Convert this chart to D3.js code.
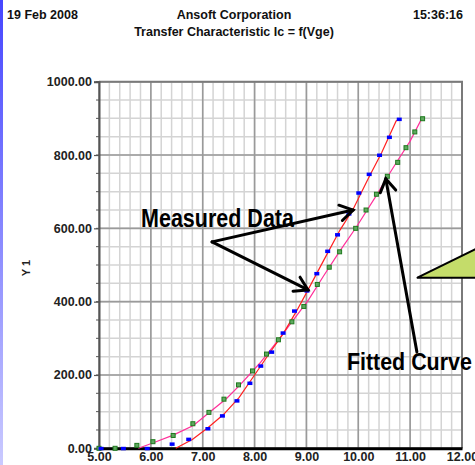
<!DOCTYPE html>
<html>
<head>
<meta charset="utf-8">
<script src="https://cdn.jsdelivr.net/npm/d3@7"></script>
<style>
  body { margin: 0; background: #fff; }
  svg { display: block; font-family: "Liberation Sans", Arial, sans-serif; }
</style>
</head>
<body>
<svg id="chart" width="475" height="465"></svg>
<script>
// measured data (blue) and its fitted curve (red)
var blueX = [5.04, 5.47, 5.93, 6.41, 6.73, 7.10, 7.38, 7.66, 7.91, 8.12, 8.33, 8.55, 8.77, 9.01, 9.20, 9.41, 9.60, 9.82, 10.01, 10.21, 10.41, 10.60, 10.79];
var blueY = [0, 0, 0, 12, 25, 54, 89, 130, 178, 225, 263, 315, 375, 430, 477, 538, 583, 640, 697, 748, 800, 849, 898];
var redFitX = [6.48, 6.80, 7.10, 7.40, 7.70, 8.00, 8.30, 8.55, 8.80, 9.00, 9.33, 9.65, 9.90, 10.20, 10.45, 10.73, 10.79];
var redFitY = [0, 24, 56, 92, 138, 200, 262, 312, 372, 424, 512, 596, 652, 738, 806, 893, 898];

// measured data (green) and its fitted curve (pink)
var greenX = [5.00, 5.31, 5.73, 6.04, 6.43, 6.81, 7.12, 7.41, 7.69, 7.96, 8.23, 8.46, 8.72, 8.95, 9.21, 9.44, 9.64, 9.95, 10.15, 10.35, 10.56, 10.76, 10.92, 11.09, 11.24];
var greenY = [0, 0, 8, 18, 35, 67, 98, 134, 173, 211, 257, 296, 345, 387, 447, 494, 536, 600, 650, 693, 742, 780, 820, 863, 899];
var pinkFitX = [5.76, 6.05, 6.43, 6.82, 7.12, 7.46, 7.72, 8.10, 8.46, 8.72, 9.04, 9.33, 9.64, 9.97, 10.35, 10.56, 10.76, 11.00, 11.20, 11.24];
var pinkFitY = [0, 15, 36, 62, 97, 136, 173, 232, 296, 345, 405, 470, 537, 605, 690, 740, 785, 838, 893, 899];

var xTicks = [5, 6, 7, 8, 9, 10, 11, 12];
var yTicks = [0, 200, 400, 600, 800, 1000];

var svg = d3.select("#chart");

// blue strip on the left edge
var grad = svg.append("defs").append("linearGradient")
    .attr("id", "edge").attr("x1", 0).attr("y1", 0).attr("x2", 0).attr("y2", 1);
grad.append("stop").attr("offset", "0%").attr("stop-color", "#4646ff");
grad.append("stop").attr("offset", "100%").attr("stop-color", "#cacaff");
svg.append("rect").attr("x", 0).attr("y", 0).attr("width", 3).attr("height", 465).attr("fill", "url(#edge)");

// header
var head = svg.append("g").attr("font-weight", "bold").attr("font-size", "12.5px").attr("fill", "#111");
head.append("text").attr("x", 7).attr("y", 19).text("19 Feb 2008");
head.append("text").attr("x", 234).attr("y", 19).attr("text-anchor", "middle").text("Ansoft Corporation");
head.append("text").attr("x", 463).attr("y", 19).attr("text-anchor", "end").text("15:36:16");
head.append("text").attr("x", 234).attr("y", 36).attr("text-anchor", "middle").text("Transfer Characteristic Ic = f(Vge)");

var x = d3.scaleLinear().domain([5, 12]).range([99, 462]);
var y = d3.scaleLinear().domain([0, 1000]).range([448.3, 81.7]);

// grid
var minorX = d3.range(5, 12.001, 0.2);
var minorY = d3.range(0, 1000.1, 50);
var grid = svg.append("g");
grid.selectAll(".mx").data(minorX).enter().append("line")
    .attr("x1", function(d) { return x(d); }).attr("x2", function(d) { return x(d); })
    .attr("y1", y(0)).attr("y2", y(1000))
    .attr("stroke", "#d4d4d4").attr("stroke-width", 1.5);
grid.selectAll(".my").data(minorY).enter().append("line")
    .attr("y1", function(d) { return y(d); }).attr("y2", function(d) { return y(d); })
    .attr("x1", x(5)).attr("x2", x(12))
    .attr("stroke", "#d4d4d4").attr("stroke-width", 1.5);
grid.selectAll(".Mx").data(xTicks).enter().append("line")
    .attr("x1", function(d) { return x(d); }).attr("x2", function(d) { return x(d); })
    .attr("y1", y(0)).attr("y2", y(1000))
    .attr("stroke", "#9a9a9a").attr("stroke-width", 1.6);
grid.selectAll(".My").data(yTicks).enter().append("line")
    .attr("y1", function(d) { return y(d); }).attr("y2", function(d) { return y(d); })
    .attr("x1", x(5)).attr("x2", x(12))
    .attr("stroke", "#9a9a9a").attr("stroke-width", 1.6);
// frame top/right
svg.append("path")
    .attr("d", "M" + x(5) + "," + y(1000) + "H" + x(12) + "V" + y(0))
    .attr("fill", "none").attr("stroke", "#7a7a7a").attr("stroke-width", 2);

// minor ticks on y axis
svg.append("g").selectAll("line").data(minorY).enter().append("line")
    .attr("x1", x(5) - 3).attr("x2", x(5))
    .attr("y1", function(d) { return y(d); }).attr("y2", function(d) { return y(d); })
    .attr("stroke", "#555").attr("stroke-width", 1);

// y axis
var yAxis = svg.append("g")
    .attr("transform", "translate(" + x(5) + ",0)")
    .call(d3.axisLeft(y).tickValues(yTicks).tickFormat(d3.format(".2f")).tickSize(5).tickPadding(2));
yAxis.select(".domain").attr("stroke", "#555").attr("stroke-width", 2);
yAxis.selectAll(".tick line").attr("stroke", "#555").attr("stroke-width", 1.2);
yAxis.selectAll("text").attr("font-size", "12.5px").attr("font-weight", "bold")
    .attr("font-family", "Liberation Sans, Arial, sans-serif").attr("fill", "#222");

// x axis
var xAxis = svg.append("g")
    .attr("transform", "translate(0," + y(0) + ")")
    .call(d3.axisBottom(x).tickValues(xTicks).tickFormat(d3.format(".2f")).tickSize(0).tickPadding(4));
xAxis.select(".domain").attr("stroke", "#000").attr("stroke-width", 3);
xAxis.selectAll("text").attr("font-size", "12.5px").attr("font-weight", "bold")
    .attr("font-family", "Liberation Sans, Arial, sans-serif").attr("fill", "#222");

svg.append("text")
    .attr("transform", "translate(30,268) rotate(-90)")
    .attr("text-anchor", "middle").attr("font-size", "11px").attr("font-weight", "bold").attr("fill", "#222")
    .text("Y 1");

// fitted curves
var line = d3.line().x(function(d) { return x(d[0]); }).y(function(d) { return y(d[1]); });
svg.append("path").datum(d3.zip(pinkFitX, pinkFitY)).attr("d", line)
    .attr("fill", "none").attr("stroke", "#ff2f9a").attr("stroke-width", 1.2);
svg.append("path").datum(d3.zip(redFitX, redFitY)).attr("d", line)
    .attr("fill", "none").attr("stroke", "#ff2020").attr("stroke-width", 1.2);

// measured points
svg.append("g").selectAll("rect").data(d3.zip(greenX, greenY)).enter().append("rect")
    .attr("x", function(d) { return x(d[0]) - 2; }).attr("y", function(d) { return y(d[1]) - 2; })
    .attr("width", 4).attr("height", 4)
    .attr("fill", "#5fa85f").attr("stroke", "#1e7a1e").attr("stroke-width", 1);
svg.append("g").selectAll("rect").data(d3.zip(blueX, blueY)).enter().append("rect")
    .attr("x", function(d) { return x(d[0]) - 2.5; }).attr("y", function(d) { return y(d[1]) - 1.5; })
    .attr("width", 5).attr("height", 3.5)
    .attr("fill", "#0000ff");

// annotations
function arrow(g, x1, y1, x2, y2) {
    var a = Math.atan2(y2 - y1, x2 - x1), len = 15, spread = 0.55;
    g.append("line").attr("x1", x1).attr("y1", y1).attr("x2", x2).attr("y2", y2);
    g.append("path").attr("fill", "none")
        .attr("d", "M" + (x2 - len * Math.cos(a - spread)) + "," + (y2 - len * Math.sin(a - spread)) +
            "L" + x2 + "," + y2 +
            "L" + (x2 - len * Math.cos(a + spread)) + "," + (y2 - len * Math.sin(a + spread)));
}
var ann = svg.append("g").attr("stroke", "#000").attr("stroke-width", 3)
    .attr("stroke-linecap", "round").attr("stroke-linejoin", "miter");
arrow(ann, x(7.18), y(563), x(9.90), y(650));
arrow(ann, x(7.18), y(563), x(9.03), y(432));
arrow(ann, x(11.13), y(263), x(10.53), y(735));

svg.append("text").attr("x", x(5.81)).attr("y", y(604))
    .attr("font-size", "25px").attr("font-weight", "bold").attr("fill", "#000")
    .attr("textLength", 153).attr("lengthAdjust", "spacingAndGlyphs")
    .text("Measured Data");
svg.append("text").attr("x", x(9.78)).attr("y", y(214))
    .attr("font-size", "24px").attr("font-weight", "bold").attr("fill", "#000")
    .attr("textLength", 125).attr("lengthAdjust", "spacingAndGlyphs")
    .text("Fitted Curve");

// green callout
svg.append("path")
    .attr("d", "M" + x(11.13) + "," + y(465) + "L" + 477 + "," + y(545) + "L" + 477 + "," + y(465) + "Z")
    .attr("fill", "#c4dc6a").attr("stroke", "#000").attr("stroke-width", 2);
</script>
</body>
</html>
